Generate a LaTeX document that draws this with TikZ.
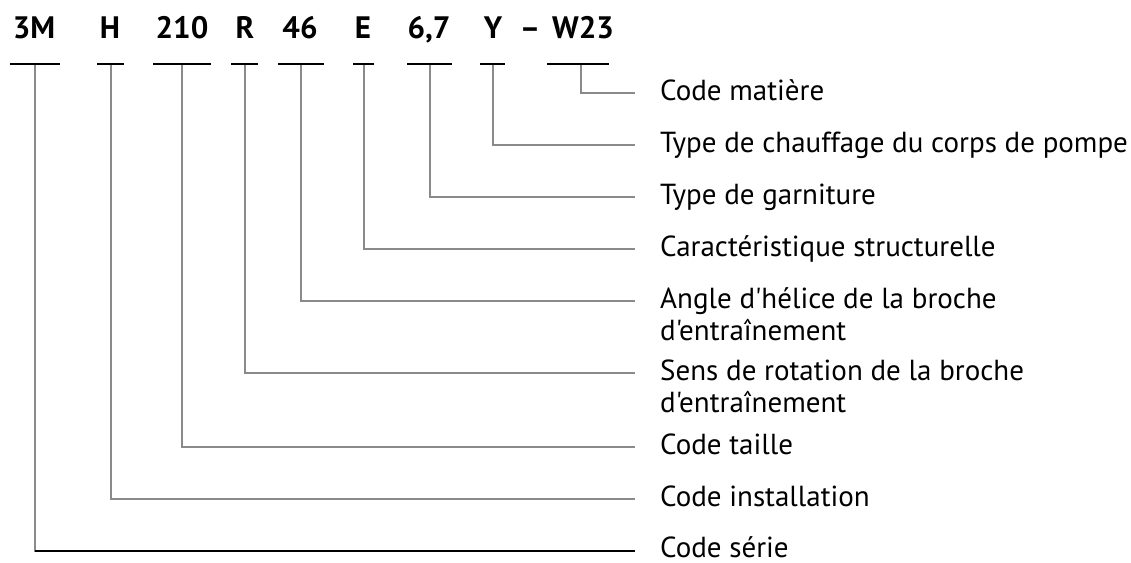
\documentclass[tikz,border=0pt]{standalone}
\usepackage{fontspec}
\setmainfont{PT Sans}[Ligatures=TeXOff]
\usepackage{xcolor}
\usepackage{tikz}
\usetikzlibrary{positioning}
\definecolor{leadgray}{RGB}{138,138,138}
\tikzstyle{code} = [font=\bfseries\fontsize{31}{36}\selectfont, inner sep=0pt, anchor=base]
\tikzstyle{bar} = [rectangle, fill=black, inner sep=0pt, minimum height=2.5pt]
\tikzstyle{line} = [draw, leadgray, line width=2pt]

\begin{document}
\begin{tikzpicture}[x=1pt, y=-1pt]
    % Style definitions
    \tikzstyle{desc} = [font=\fontsize{29}{32}\selectfont, inner sep=0pt,
        anchor=base west]
    \tikzstyle{serie} = [draw, black, line width=2.5pt]
    \useasboundingbox (0,0) rectangle (1131,562);

    % Code letters
    \node [code] (c3M) at (34,38) {3M};
    \node [code] (cH) at (110,38) {H};
    \node [code] (c210) at (182,38) {210};
    \node [code] (cR) at (245,38) {R};
    \node [code] (c46) at (300,38) {46};
    \node [code] (cE) at (363,38) {E};
    \node [code] (c67) at (429,38) {6,7};
    \node [code] (cY) at (493,38) {Y};
    \node [code] (cdash) at (530,38) {–};
    \node [code] (cW23) at (583,38) {W23};

    % Bars under the codes
    \node [bar, minimum width=50pt] (b3M) at (35,64) {};
    \node [bar, minimum width=27pt] (bH) at (110.5,64) {};
    \node [bar, minimum width=58pt] (b210) at (182,64) {};
    \node [bar, minimum width=27pt] (bR) at (244.5,64) {};
    \node [bar, minimum width=46pt] (b46) at (301,64) {};
    \node [bar, minimum width=21pt] (bE) at (363.5,64) {};
    \node [bar, minimum width=45pt] (b67) at (429.5,64) {};
    \node [bar, minimum width=25pt] (bY) at (492.5,64) {};
    \node [bar, minimum width=62pt] (bW23) at (578,64) {};

    % Descriptions
    \node [desc] (matiere) at (660,100) {Code matière};
    \node [desc] (chauffage) at (660,152) {Type de chauffage du corps de pompe};
    \node [desc] (garniture) at (660,204) {Type de garniture};
    \node [desc] (structure) at (660,256) {Caractéristique structurelle};
    \node [desc] (angle) at (660,308.5)
        {\vtop{\hbox{Angle d'hélice de la broche}\hbox{d'entraînement}}};
    \node [desc] (sens) at (660,380.5)
        {\vtop{\hbox{Sens de rotation de la broche}\hbox{d'entraînement}}};
    \node [desc] (taille) at (660,454.5) {Code taille};
    \node [desc] (installation) at (660,506.5) {Code installation};
    \node [desc] (serie) at (660,557.5) {Code série};

    % Connections
    \path [line] ([xshift=3pt]bW23.south) |- ([xshift=-25pt,yshift=7.5pt]matiere.base west);
    \path [line] (bY.south) |- ([xshift=-25pt,yshift=7.5pt]chauffage.base west);
    \path [line] (b67.south) |- ([xshift=-25pt,yshift=7.5pt]garniture.base west);
    \path [line] (bE.south) |- ([xshift=-25pt,yshift=7.5pt]structure.base west);
    \path [line] (b46.south) |- ([xshift=-25pt,yshift=7.5pt]angle.base west);
    \path [line] (bR.south) |- ([xshift=-25pt,yshift=7.5pt]sens.base west);
    \path [line] (b210.south) |- ([xshift=-25pt,yshift=7.5pt]taille.base west);
    \path [line] (bH.south) |- ([xshift=-25pt,yshift=7.5pt]installation.base west);
    \path [line] (b3M.south) |- ([xshift=-25pt,yshift=6.5pt]serie.base west);
    \coordinate (send) at ([xshift=-25pt,yshift=6.5pt]serie.base west);
    \path [serie] (send -| b3M.south) -- (send);
\end{tikzpicture}
\end{document}
